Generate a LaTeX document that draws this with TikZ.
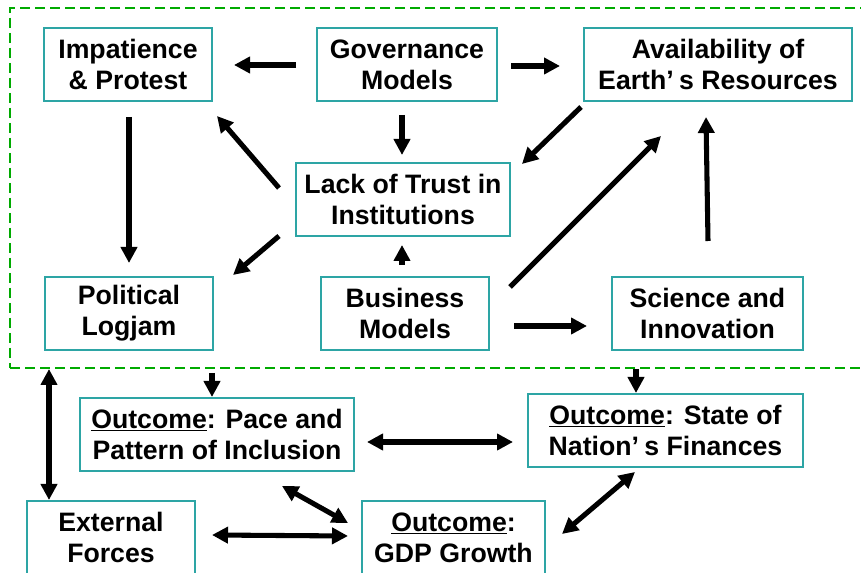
\documentclass[tikz,border=0pt]{standalone}
\usepackage{fontspec}
\setmainfont{Liberation Sans}
\usetikzlibrary{arrows.meta,calc}
\definecolor{boxteal}{RGB}{45,165,165}
\definecolor{grpgreen}{RGB}{0,170,0}
\newcommand{\apos}{’\hspace{0.2em}}
\tikzset{
  box/.style={draw=boxteal, line width=1.2pt, inner sep=0pt, outer sep=0pt,
    minimum height=54.75pt, align=center,
    font=\fontsize{20}{23.25}\selectfont\bfseries,
    execute at begin node={\rule{0pt}{18pt}}},
  grp/.style={draw=grpgreen, line width=0.9pt, dash pattern=on 7.5pt off 3.75pt,
    inner sep=0pt, outer sep=0pt},
  arr/.style={line width=3.8pt, -{Triangle[length=12pt,width=12pt]}},
  dbl/.style={line width=3.8pt, {Triangle[length=12pt,width=12pt]}-{Triangle[length=12pt,width=12pt]}}
}
\begin{document}
\begin{tikzpicture}[x=0.75pt,y=-0.75pt]
\clip (0,0) rectangle (861,573);
\fill[white] (0,0) rectangle (861,573);
% group border
\node[grp, anchor=north west, minimum width=648.75pt, minimum height=270pt] (group) at (10,8) {};
% boxes
\node[box, minimum width=126pt] (imp) at (128,64.5) {Impatience\\\& Protest};
\node[box, minimum width=135pt] (gov) at (407,64.5) {Governance\\Models};
\node[box, minimum width=201pt] (avail) at (718,64.5) {Availability of\\Earth\apos s Resources};
\node[box, minimum width=160.5pt] (lack) at (403,199.5) {Lack of Trust in\\Institutions};
\node[box, minimum width=126pt] (pol) at (129,313.5) {Political\\Logjam};
\node[box, minimum width=126pt] (bus) at (405,313.5) {Business\\Models};
\node[box, minimum width=143.25pt] (sci) at (707.5,313.5) {Science and\\Innovation};
\node[box, minimum width=205.5pt] (pace) at (217,434.5) {\underline{Outcome}: Pace and\\Pattern of Inclusion};
\node[box, minimum width=206.25pt] (state) at (665.5,430.5) {\underline{Outcome}: State of\\Nation\apos s Finances};
\node[box, minimum width=126pt] (ext) at (111,537.5) {External\\Forces};
\node[box, minimum width=137.25pt] (gdp) at (453.5,537.5) {\underline{Outcome}:\\GDP Growth};
% connectors
\draw[arr] ($(gov.west)+(-21,0.5)$) -- ($(imp.east)+(22,0.5)$);
\draw[arr] ($(gov.east)+(14,1.5)$) -- ($(avail.west)+(-24,1.5)$);
\draw[arr] ($(gov.south)+(-5,14)$) -- ($(lack.north)+(-1,-8)$);
\draw[arr] ($(avail.south west)+(-3,6)$) -- ($(lack.north east)+(12,1)$);
\draw[arr] ($(lack.west)+(-17,-11.5)$) -- ($(imp.south east)+(5,15)$);
\draw[arr] ($(imp.south)+(1,16)$) -- ($(pol.north)+(0,-14)$);
\draw[arr] ($(lack.south west)+(-17,0)$) -- ($(pol.north east)+(20,-2)$);
\draw[arr] ($(bus.north)+(-3,-12)$) -- ($(lack.south)+(-1,9)$);
\draw[arr] ($(bus.north east)+(21,10)$) -- ($(avail.south)+(-57,35)$);
\draw[arr] ($(bus.east)+(25,12.5)$) -- ($(sci.west)+(-25,12.5)$);
\draw[arr] ($(sci.north)+(0.5,-36)$) -- ($(avail.south)+(-12,16)$);
\draw[arr] ($(group.south west)+(202,5)$) -- ($(pace.north)+(-5,-1)$);
\draw[arr] ($(group.south west)+(626,1)$) -- ($(state.north)+(-29.5,-1)$);
\draw[dbl] ($(group.south west)+(39,1)$) -- ($(ext.north west)+(22,-1)$);
\draw[dbl] ($(pace.east)+(13,7.5)$) -- ($(state.west)+(-15,11.5)$);
\draw[dbl] ($(pace.south)+(65,15)$) -- ($(gdp.west)+(-14,-14.5)$);
\draw[dbl] ($(ext.east)+(17,-2.5)$) -- ($(gdp.west)+(-14,-1.5)$);
\draw[dbl] ($(state.south)+(-30.5,5)$) -- ($(gdp.east)+(17,-3.5)$);
\end{tikzpicture}
\end{document}
